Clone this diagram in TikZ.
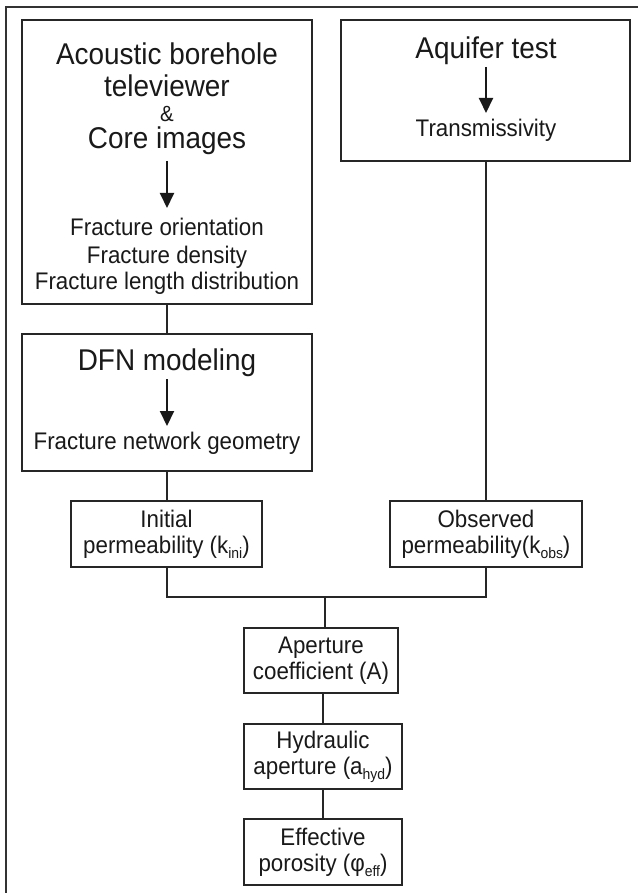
\documentclass[tikz,border=0pt]{standalone}
\usepackage{fontspec}
\setmainfont{Liberation Sans}[FakeStretch=0.93]
\usetikzlibrary{arrows.meta}
\newcommand\subx[1]{\raisebox{-5pt}{\fontsize{15}{15}\selectfont #1}}
\begin{document}
\begin{tikzpicture}[x=1pt,y=-1pt,
  box/.style={draw=black!85, line width=2pt, rectangle, inner sep=0pt},
  conn/.style={draw=black!85, line width=2pt},
  arr/.style={draw=black!90, line width=2pt, -{Triangle[length=15pt,width=14pt]}},
  bigtxt/.style={font=\fontsize{30}{33}\selectfont, anchor=base, inner sep=0pt, text=black!90},
  amptxt/.style={font=\fontsize{22}{22}\selectfont, anchor=base, inner sep=0pt, text=black!90},
  smalltxt/.style={font=\fontsize{24}{27}\selectfont, anchor=base, inner sep=0pt, text=black!90},
  boxtxt/.style={font=\fontsize{24}{26}\selectfont, align=center, text=black!90}
]
\useasboundingbox (0,0) rectangle (638,893);
\fill[white] (0,0) rectangle (638,893);
% outer frame (left and top edges visible)
\draw[line width=1.3pt, black!80] (6,893) -- (6,7) -- (638,7);

% --- box 1
\node[box, minimum width=290pt, minimum height=284pt] (b1) at (167,162) {};
\node[bigtxt] (t1a) at (167,65) {Acoustic borehole};
\node[bigtxt] (t1b) at (167,97) {televiewer};
\node[amptxt] (t1amp) at (167,122) {\&};
\node[bigtxt] (t1c) at (167,149) {Core images};
\coordinate (a1s) at (167,161);
\coordinate (a1e) at (167,208);
\draw[arr] (a1s) -- (a1e);
\node[smalltxt] (f1) at (167,236) {Fracture orientation};
\node[smalltxt] (f2) at (167,263) {Fracture density};
\node[smalltxt] (f3) at (167,289) {Fracture length distribution};

% --- box 2
\node[box, minimum width=289pt, minimum height=141pt] (b2) at (485.5,90.5) {};
\node[bigtxt] (t2a) at (486,59) {Aquifer test};
\coordinate (a2s) at (486,67);
\coordinate (a2e) at (486,113);
\draw[arr] (a2s) -- (a2e);
\node[smalltxt] (t2b) at (486,137) {Transmissivity};

% --- DFN box
\node[box, minimum width=290pt, minimum height=137pt] (dfn) at (167,402.5) {};
\node[bigtxt] (t3a) at (167,370) {DFN modeling};
\coordinate (a3s) at (167,379);
\coordinate (a3e) at (167,426);
\draw[arr] (a3s) -- (a3e);
\node[smalltxt] (t3b) at (167,449) {Fracture network geometry};

% --- permeability boxes
\node[box, boxtxt, minimum width=191pt, minimum height=66pt] (ini) at (166.5,534)
  {Initial\\permeability (k\subx{ini})};
\node[box, boxtxt, minimum width=192pt, minimum height=66pt] (obs) at (486,534)
  {Observed\\permeability(k\subx{obs})};

% --- lower chain
\node[box, boxtxt, minimum width=154pt, minimum height=65pt] (aper) at (321,660.5)
  {Aperture\\coefficient (A)};
\node[box, boxtxt, minimum width=158pt, minimum height=65pt] (hyd) at (323,756.5)
  {Hydraulic\\aperture (a\subx{hyd})};
\node[box, boxtxt, minimum width=158pt, minimum height=66pt] (eff) at (323,852)
  {Effective\\porosity (φ\subx{eff})};

% --- connectors
\draw[conn] (b1.south -| f3) -- (dfn.north -| f3);
\draw[conn] (dfn.south -| t3b) -- (ini.north -| t3b);
\draw[conn] (b2.south -| obs) -- (obs.north);
\coordinate (j) at (325,597);
\draw[conn] (ini.south) |- (j) -| (obs.south);
\draw[conn] (j) -- (j |- aper.north);
\draw[conn] (aper.south -| hyd) -- (hyd.north);
\draw[conn] (hyd.south) -- (eff.north);
\end{tikzpicture}
\end{document}
